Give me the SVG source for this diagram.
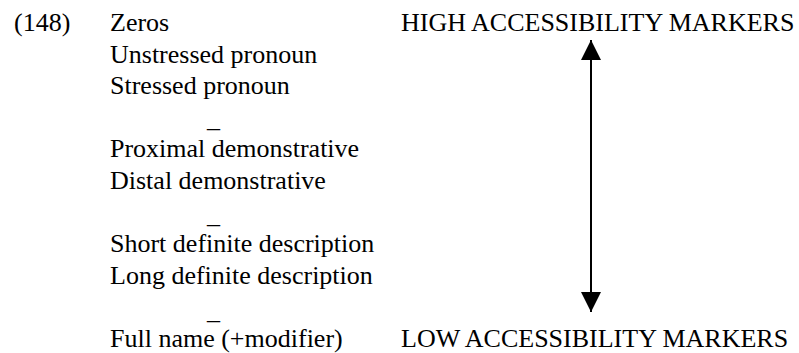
<svg xmlns="http://www.w3.org/2000/svg" width="799" height="353" viewBox="0 0 799 353">
  <style>
    text { font-family: "Liberation Serif", "Times New Roman", serif; font-size: 26px; fill: #000; }
    .shaft { stroke: #000; stroke-width: 2; fill: none; }
  </style>
  <defs>
    <marker id="head" markerUnits="userSpaceOnUse" markerWidth="20" markerHeight="20" refX="20" refY="10" orient="auto-start-reverse" viewBox="0 0 20 20">
      <path d="M0,0 L20,10 L0,20 Z" fill="#000"/>
    </marker>
  </defs>
  <rect width="799" height="353" fill="#fff"/>

  <g id="example-number"><text x="14" y="31">(148)</text></g>

  <!-- scale of referring expressions, most to least accessible -->
  <g id="zeros"><text x="110" y="31">Zeros</text></g>
  <g id="unstressed-pronoun"><text x="110" y="62.5">Unstressed pronoun</text></g>
  <g id="stressed-pronoun"><text x="110" y="94">Stressed pronoun</text></g>
  <g id="sep-1"><text x="207" y="127">_</text></g>
  <g id="proximal-demonstrative"><text x="110" y="157">Proximal demonstrative</text></g>
  <g id="distal-demonstrative"><text x="110" y="188.5">Distal demonstrative</text></g>
  <g id="sep-2"><text x="207" y="223">_</text></g>
  <g id="short-definite"><text x="110" y="252">Short definite description</text></g>
  <g id="long-definite"><text x="110" y="283.5">Long definite description</text></g>
  <g id="sep-3"><text x="207" y="319">_</text></g>
  <g id="full-name"><text x="110" y="347">Full name (+modifier)</text></g>

  <!-- pole labels -->
  <g id="high-markers"><text x="401" y="31">HIGH ACCESSIBILITY MARKERS</text></g>
  <g id="low-markers"><text x="401" y="347">LOW ACCESSIBILITY MARKERS</text></g>

  <g id="connectors">
    <line class="shaft" x1="591" y1="40" x2="591" y2="312" marker-start="url(#head)" marker-end="url(#head)"/>
  </g>
</svg>
